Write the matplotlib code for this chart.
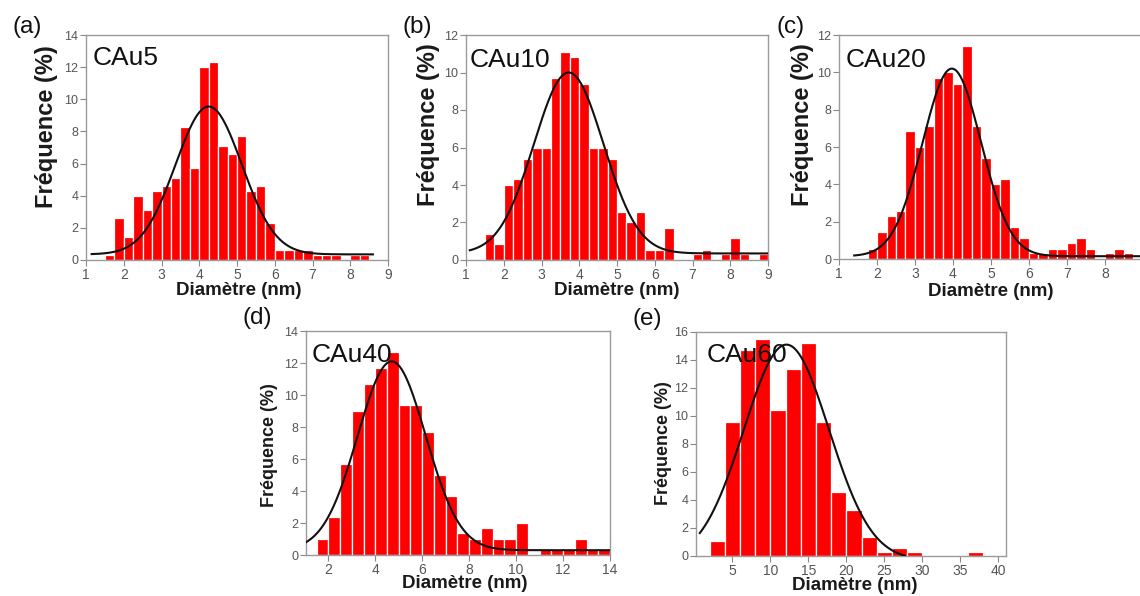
import numpy as np
import matplotlib
matplotlib.use("Agg")
import matplotlib.pyplot as plt

plt.rcParams['font.family'] = ['Liberation Sans', 'DejaVu Sans']

# ---------------- data ----------------
names = ["CAu5", "CAu10", "CAu20", "CAu40", "CAu60"]
letters = ["(a)", "(b)", "(c)", "(d)", "(e)"]

# histogram: first bin left edge, bin width, heights (%)
a_start, a_width = 1.25, 0.25
a_freq = [0.05, 0.3, 2.6, 1.4, 4.0, 3.1, 4.3, 4.6, 5.1, 8.3, 5.7, 12.0, 12.3, 7.1, 6.6,
          7.7, 4.3, 4.6, 2.3, 0.6, 0.6, 0.6, 0.6, 0.3, 0.3, 0.3, 0.0, 0.3, 0.3]

b_start, b_width = 1.25, 0.25
b_freq = [0.05, 1.4, 0.85, 4.0, 4.3, 5.4, 6.0, 6.0, 9.7, 11.1, 10.85, 9.4, 6.0, 6.0, 5.4,
          2.55, 2.0, 2.55, 0.55, 0.55, 1.7, 0.0, 0.0, 0.3, 0.55, 0.0, 0.3, 1.15, 0.3, 0.0, 0.3]

c_start, c_width = 1.5, 0.25
c_freq = [0.05, 0.55, 1.45, 2.3, 2.55, 6.85, 6.0, 7.1, 9.7, 10.0, 9.4, 11.4, 7.1, 5.4, 4.0,
          4.3, 1.7, 1.15, 0.3, 0.3, 0.55, 0.55, 0.85, 1.15, 0.55, 0.0, 0.3, 0.55, 0.3]

d_start, d_width = 1.0, 0.5
d_freq = [0.05, 1.0, 2.35, 5.7, 9.0, 10.7, 11.7, 12.7, 9.35, 9.35, 7.7, 5.0, 3.7, 1.35, 1.0,
          1.7, 1.0, 1.0, 2.0, 0.0, 0.35, 0.35, 0.35, 1.0, 0.35, 0.35]

e_start, e_width = 2.0, 2.0
e_freq = [1.1, 9.55, 14.7, 15.5, 10.4, 13.35, 15.25, 9.55, 4.6, 3.3, 1.35, 0.3, 0.55, 0.3,
          0.0, 0.0, 0.0, 0.3]

# Gaussian fit parameters: centre, amplitude, width, baseline, x-range
a_fit = dict(xc=4.25, A=9.2, w=0.88, y0=0.35, x0=1.15, x1=8.6)
b_fit = dict(xc=3.72, A=9.65, w=0.92, y0=0.35, x0=1.1, x1=9.0)
c_fit = dict(xc=3.97, A=10.05, w=0.77, y0=0.15, x0=1.4, x1=9.0)
d_fit = dict(xc=4.7, A=11.8, w=1.45, y0=0.3, x0=1.0, x1=14.0)
e_fit = dict(xc=12.1, A=15.4, w=5.6, y0=-0.3, x0=0.7, x1=27.7)

# axis limits / ticks
xlims = [(1, 9), (1, 9), (1, 9), (1.05, 14), (0.2, 41)]
xticks = [list(range(1, 10)), list(range(1, 10)), list(range(1, 10)),
          [2, 4, 6, 8, 10, 12, 14], [5, 10, 15, 20, 25, 30, 35, 40]]
ylims = [(0, 14), (0, 12), (0, 12), (0, 14), (0, 16)]
yticks = [list(range(0, 15, 2)), list(range(0, 13, 2)), list(range(0, 13, 2)),
          list(range(0, 15, 2)), list(range(0, 17, 2))]

# ---------------- layout (pixels) ----------------
W, H = 1140, 596
fig = plt.figure(figsize=(W / 100, H / 100), dpi=100)

boxes = [(86, 388, 35, 260), (466, 768, 35, 260), (839, 1143, 35, 259),
         (306, 610, 331, 555), (696, 1006, 332, 556)]
ylab_pos = [(47, 127), (428, 125), (802, 125), (270, 445), (663, 443)]
xlab_pos = [(239, 291), (617, 291), (991, 291), (465, 583), (855, 585)]
ylab_size = [17, 17, 17, 13, 13]
letter_pos = [(13, 33), (402, 33), (777, 33), (243, 324), (633, 325)]
name_pos = [(93, 65), (470, 67), (846, 67), (312, 362), (707, 362)]

hists = [(a_start, a_width, a_freq), (b_start, b_width, b_freq), (c_start, c_width, c_freq),
         (d_start, d_width, d_freq), (e_start, e_width, e_freq)]
fits = [a_fit, b_fit, c_fit, d_fit, e_fit]

def fx(px):
    return px / W

def fy(py):
    return 1 - py / H

for i in range(5):
    l, r, t, b = boxes[i]
    ax = fig.add_axes([fx(l), fy(b), (r - l) / W, (b - t) / H])
    start, width, freq = hists[i]
    edges = start + width * np.arange(len(freq))
    ax.bar(edges, freq, width=width, align='edge', color='#ff0000',
           edgecolor='white', linewidth=0.9, zorder=2)
    p = fits[i]
    xs = np.linspace(p['x0'], p['x1'], 300)
    ys = p['y0'] + p['A'] * np.exp(-(xs - p['xc']) ** 2 / (2 * p['w'] ** 2))
    ax.plot(xs, ys, color='#111111', lw=1.5, zorder=3)

    ax.set_xlim(*xlims[i])
    ax.set_ylim(*ylims[i])
    ax.set_xticks(xticks[i])
    ax.set_yticks(yticks[i])
    ax.tick_params(axis='x', direction='out', length=4, width=0.8, color='#888888',
                   labelcolor='#555555', labelsize=10, pad=1.5)
    ax.tick_params(axis='y', direction='out', length=4, width=0.8, color='#888888',
                   labelcolor='#555555', labelsize=9, pad=1.5)
    for s in ax.spines.values():
        s.set_color('#9a9a9a')
        s.set_linewidth(1.0)

    ax.set_ylabel("Fréquence (%)", fontsize=ylab_size[i], fontweight='bold',
                  color='#1a1a1a', va='center', ha='center')
    ax.set_xlabel("Diamètre (nm)", fontsize=13.5, fontweight='bold',
                  color='#1a1a1a', va='center', ha='center')
    yx, yy = ylab_pos[i]
    ax.yaxis.set_label_coords((yx - l) / (r - l), (b - yy) / (b - t))
    xx, xy = xlab_pos[i]
    ax.xaxis.set_label_coords((xx - l) / (r - l), (b - xy) / (b - t))

    nx, ny = name_pos[i]
    ax.text((nx - l) / (r - l), (b - ny) / (b - t), names[i], transform=ax.transAxes,
            fontsize=19, color='#111111', ha='left', va='baseline', zorder=5)

    lx, ly = letter_pos[i]
    fig.text(fx(lx), fy(ly), letters[i], fontsize=17.5, color='#111111',
             ha='left', va='baseline')

fig.savefig("out.png", dpi=100)
